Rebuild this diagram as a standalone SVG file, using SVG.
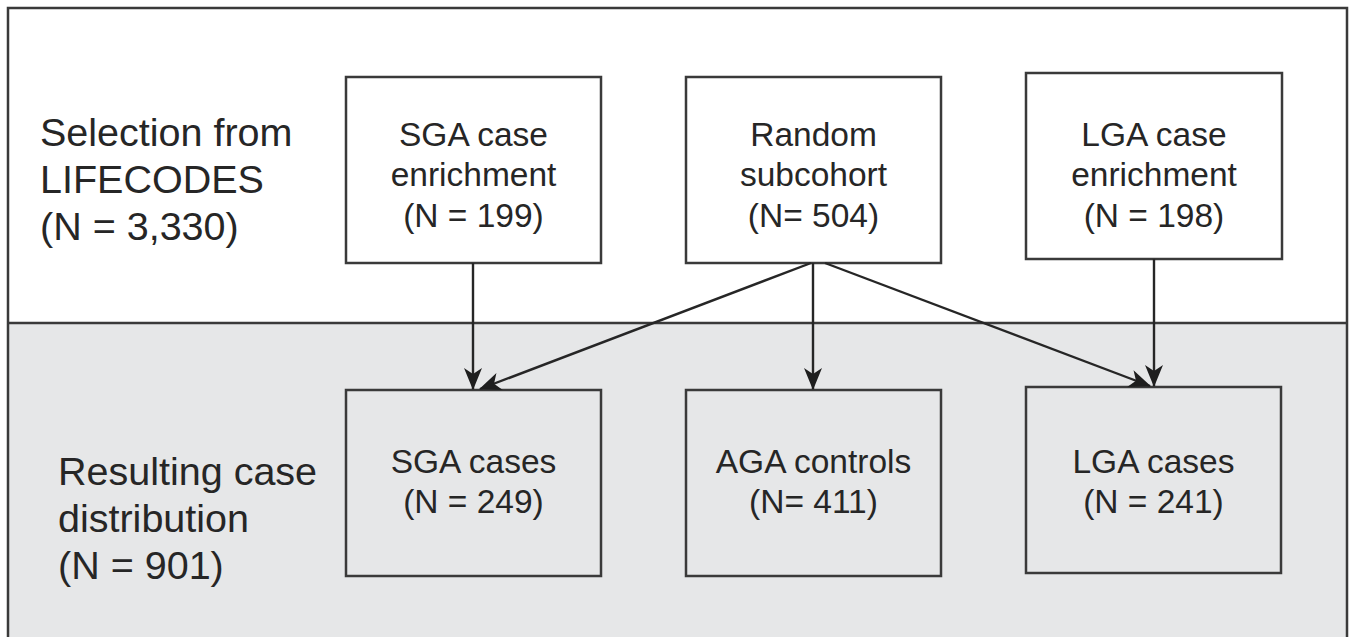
<svg xmlns="http://www.w3.org/2000/svg" width="1355" height="637" viewBox="0 0 1355 637">
<style>
.box{fill:#ffffff;stroke:#3a3a3a;stroke-width:2.5}
.gbox{fill:#e6e7e8;stroke:#3a3a3a;stroke-width:2.5}
.t{font-family:"Liberation Sans",Arial,sans-serif;font-size:33.5px;fill:#262626;text-anchor:middle}
.lt{font-family:"Liberation Sans",Arial,sans-serif;font-size:39.5px;fill:#262626}
.c{stroke:#262626;stroke-width:2.4;fill:none;marker-end:url(#ah)}
</style>
<defs>
<marker id="ah" viewBox="0 0 22 20" refX="21" refY="10" markerWidth="22" markerHeight="20" markerUnits="userSpaceOnUse" orient="auto">
<path d="M0,1 L22,10 L0,19 L6,10 Z" fill="#1e1e1e"/>
</marker>
</defs>
<g id="background">
<rect x="0" y="0" width="1355" height="637" fill="#ffffff"/>
<rect x="8" y="323" width="1339" height="320" fill="#e6e7e8"/>
<path d="M8,645 L8,8 L1347,8 L1347,645" fill="none" stroke="#3a3a3a" stroke-width="2.5"/>
<line x1="8" y1="323" x2="1347" y2="323" stroke="#3a3a3a" stroke-width="2.5"/>
</g>
<g id="label-selection">
<text class="lt" x="40" y="146">Selection from</text>
<text class="lt" x="40" y="193">LIFECODES</text>
<text class="lt" x="40" y="240">(N = 3,330)</text>
</g>
<g id="label-resulting">
<text class="lt" x="58" y="485">Resulting case</text>
<text class="lt" x="58" y="532">distribution</text>
<text class="lt" x="58" y="579">(N = 901)</text>
</g>
<g id="sga-enrichment">
<rect class="box" x="346" y="77" width="255" height="186"/>
<text class="t" x="473.5" y="145.5">SGA case</text>
<text class="t" x="473.5" y="186">enrichment</text>
<text class="t" x="473.5" y="226.5">(N = 199)</text>
</g>
<g id="random-subcohort">
<rect class="box" x="686" y="77" width="255" height="186"/>
<text class="t" x="813.5" y="145.5">Random</text>
<text class="t" x="813.5" y="186">subcohort</text>
<text class="t" x="813.5" y="226.5">(N= 504)</text>
</g>
<g id="lga-enrichment">
<rect class="box" x="1026" y="73" width="256" height="186"/>
<text class="t" x="1154" y="145.5">LGA case</text>
<text class="t" x="1154" y="186">enrichment</text>
<text class="t" x="1154" y="226.5">(N = 198)</text>
</g>
<g id="sga-cases">
<rect class="gbox" x="346" y="390" width="255" height="186"/>
<text class="t" x="473.5" y="472.5">SGA cases</text>
<text class="t" x="473.5" y="512.5">(N = 249)</text>
</g>
<g id="aga-controls">
<rect class="gbox" x="686" y="390" width="255" height="186"/>
<text class="t" x="813.5" y="472.5">AGA controls</text>
<text class="t" x="813.5" y="512.5">(N= 411)</text>
</g>
<g id="lga-cases">
<rect class="gbox" x="1026" y="387" width="255" height="186"/>
<text class="t" x="1153.5" y="472.5">LGA cases</text>
<text class="t" x="1153.5" y="512.5">(N = 241)</text>
</g>
<g id="connectors">
<line class="c" x1="473" y1="263" x2="473" y2="389"/>
<line class="c" x1="811" y1="263" x2="480" y2="389"/>
<line class="c" x1="813" y1="263" x2="813" y2="389"/>
<line class="c" x1="825" y1="263" x2="1150" y2="386"/>
<line class="c" x1="1154" y1="259" x2="1154" y2="386"/>
</g>
</svg>
